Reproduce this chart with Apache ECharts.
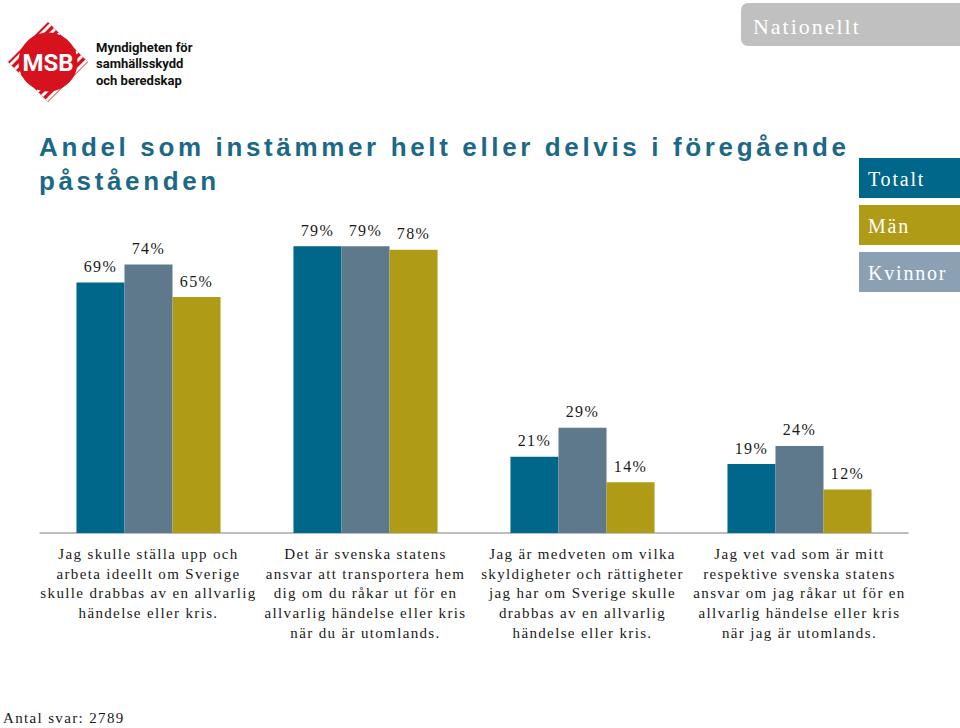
<!DOCTYPE html>
<html><head><meta charset="utf-8">
<script src="https://cdn.jsdelivr.net/npm/echarts@6/dist/echarts.min.js"></script>
<style>
html,body{margin:0;padding:0;background:#fff;overflow:hidden}
#c{width:960px;height:728px}
#c text[style*="Serif"]{letter-spacing:0.09em}
#c text[style*="Liberation Sans"]{letter-spacing:0.14em}
</style></head><body><div id="c"></div>
<script>
const categories = [
  'Jag skulle ställa upp och\narbeta ideellt om Sverige\nskulle drabbas av en allvarlig\nhändelse eller kris.',
  'Det är svenska statens\nansvar att transportera hem\ndig om du råkar ut för en\nallvarlig händelse eller kris\nnär du är utomlands.',
  'Jag är medveten om vilka\nskyldigheter och rättigheter\njag har om Sverige skulle\ndrabbas av en allvarlig\nhändelse eller kris.',
  'Jag vet vad som är mitt\nrespektive svenska statens\nansvar om jag råkar ut för en\nallvarlig händelse eller kris\nnär jag är utomlands.'
];
const seriesNames = ['Totalt', 'Kvinnor', 'Män'];
const totalt = [69, 79, 21, 19];
const kvinnor = [74, 79, 29, 24];
const man = [65, 78, 14, 12];
const legendNames = ['Totalt', 'Män', 'Kvinnor'];
const titleText = 'Andel som instämmer helt eller delvis i föregående\npåståenden';
const noteText = 'Antal svar: 2789';
const tabText = 'Nationellt';
const logoLines = ['Myndigheten för', 'samhällsskydd', 'och beredskap'];

const colors = { 'Totalt': '#00678b', 'Kvinnor': '#5e798c', 'Män': '#af9b15' };
const legendColors = { 'Totalt': '#00678b', 'Män': '#af9b15', 'Kvinnor': '#8ba1b3' };
const SERIF = 'Liberation Serif';

const chart = echarts.init(document.getElementById('c'), null, { renderer: 'svg' });

// logo
const logo = [];
const cx = 48, cy = 62, R = 40;
logo.push({ type: 'polygon', shape: { points: [[cx, cy - R], [cx + R, cy], [cx, cy + R], [cx - R, cy]] }, style: { fill: '#d5121d' } });
for (let u = -R + 5; u < R - 2; u += 9) {
  const x1 = cx + (u - R) / 2, y1 = cy + (u + R) / 2;
  const x2 = cx + (u + R) / 2, y2 = cy + (u - R) / 2;
  logo.push({ type: 'line', shape: { x1, y1, x2, y2 }, style: { stroke: '#ffffff', lineWidth: 3 } });
}
logo.push({ type: 'circle', shape: { cx: cx, cy: cy, r: 29.5 }, style: { fill: '#d5121d' } });
logo.push({ type: 'text', x: cx, y: cy + 1, style: { text: 'MSB', fill: '#fff', font: 'bold 24px Roboto', align: 'center', verticalAlign: 'middle' } });
logoLines.forEach((t, i) => {
  logo.push({ type: 'text', x: 96, y: 47 + i * 16.5, style: { text: t, fill: '#111', font: 'bold 13px Roboto', verticalAlign: 'middle' } });
});

const legendEls = [];
legendNames.forEach((n, i) => {
  const y = 158 + i * 47;
  legendEls.push({ type: 'rect', shape: { x: 859, y: y, width: 110, height: 40 }, style: { fill: legendColors[n] } });
  legendEls.push({ type: 'text', x: 868, y: y + 21, style: { text: n, fill: '#fff', fontSize: 20, fontFamily: SERIF, verticalAlign: 'middle' } });
});

const option = {
  backgroundColor: '#fff',
  animation: false,
  title: {
    text: titleText, left: 34, top: 125,
    textStyle: { fontFamily: 'Liberation Sans', fontWeight: 'bold', fontSize: 26, color: '#1b6987', lineHeight: 34 }
  },
  grid: { left: 40, right: 52, top: 170, bottom: 195, containLabel: false },
  xAxis: {
    type: 'category', data: categories,
    axisLine: { lineStyle: { color: '#a8a8a8', width: 1.5 } },
    axisTick: { show: false },
    axisLabel: { interval: 0, margin: 11, fontFamily: SERIF, fontSize: 15, lineHeight: 19.7, color: '#1a1a1a' }
  },
  yAxis: { type: 'value', min: 0, max: 100, show: false },
  series: [
    { name: seriesNames[0], data: totalt },
    { name: seriesNames[1], data: kvinnor },
    { name: seriesNames[2], data: man }
  ].map(s => ({
    type: 'bar', name: s.name, data: s.data,
    barGap: '0%', barCategoryGap: '33.6%',
    itemStyle: { color: colors[s.name] },
    label: { show: true, position: 'top', distance: 8, formatter: '{c}%', fontFamily: SERIF, fontSize: 16, color: '#1a1a1a' }
  })),
  graphic: [
    { type: 'rect', shape: { x: 741, y: 3, width: 240, height: 43, r: 7 }, style: { fill: '#c0c0c0' } },
    { type: 'text', x: 753, y: 26, style: { text: tabText, fill: '#fff', fontSize: 22, fontFamily: SERIF, verticalAlign: 'middle' } },
    { type: 'text', x: 3, y: 718, style: { text: noteText, fill: '#1a1a1a', fontSize: 15, fontFamily: SERIF, verticalAlign: 'middle' } }
  ].concat(logo, legendEls)
};
chart.setOption(option);
</script></body></html>
